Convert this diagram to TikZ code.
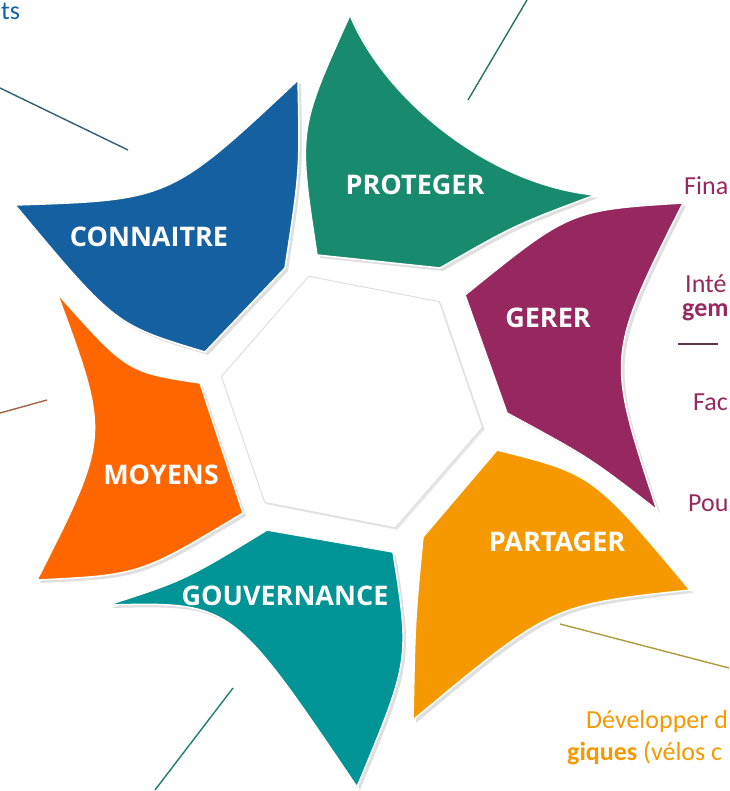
\documentclass[tikz,border=0pt]{standalone}
\usepackage{fontspec}
\setmainfont{Carlito}
\newfontfamily\petalfont{Open Sans}
\usetikzlibrary{shapes.geometric,shadows}

\definecolor{bleu}{RGB}{20,96,160}
\definecolor{vert}{RGB}{24,138,110}
\definecolor{prune}{RGB}{150,40,95}
\definecolor{jaune}{RGB}{246,152,0}
\definecolor{canard}{RGB}{0,148,150}
\definecolor{carotte}{RGB}{255,102,0}

\tikzset{
  petal/.style={draw=white, line width=1.5pt,
    drop shadow={opacity=.25, shadow xshift=3pt, shadow yshift=-3pt}},
  petaltext/.style={text=white, font=\petalfont\fontsize{27}{30}\selectfont\bfseries},
  sidetext/.style={font=\fontsize{26}{30}\selectfont, inner sep=0pt, anchor=base west},
  trait/.style={line width=1.4pt}
}

\begin{document}
\begin{tikzpicture}[x=1pt,y=-1pt]
\useasboundingbox (0,0) rectangle (729,791);

\coordinate (t1a) at (0,88);    \coordinate (t1b) at (128,150);
\coordinate (t2a) at (527,0);   \coordinate (t2b) at (468,100);
\coordinate (t3a) at (0,413);   \coordinate (t3b) at (47,400);
\coordinate (t4a) at (233,688); \coordinate (t4b) at (155,790);
\coordinate (t5a) at (678,344); \coordinate (t5b) at (718,344);
\coordinate (t6a) at (560,624); \coordinate (t6b) at (729,668);
\draw[trait, color={rgb,255:red,50;green,95;blue,115}] (t1a) -- (t1b);
\draw[trait, color={rgb,255:red,40;green,115;blue,95}] (t2a) -- (t2b);
\draw[trait, color={rgb,255:red,160;green,100;blue,70}] (t3a) -- (t3b);
\draw[trait, color={rgb,255:red,30;green,125;blue,115}] (t4a) -- (t4b);
\draw[trait, color={rgb,255:red,95;green,55;blue,75}] (t5a) -- (t5b);
\draw[trait, color={rgb,255:red,175;green,155;blue,60}] (t6a) -- (t6b);

\node[regular polygon, regular polygon sides=6, minimum size=266pt, inner sep=0pt,
  rotate=-11, fill=white, draw=gray!25, line width=1pt,
  drop shadow={opacity=.2, shadow xshift=2pt, shadow yshift=-2pt}] (hub) at (352,402) {};

\path[petal, fill=bleu] (205,352) .. controls (115,325) .. (15,205)
  .. controls (170,200) .. (298,80) .. controls (300,170) .. (285,268) -- cycle;
\path[petal, fill=vert] (317,255) .. controls (298,130) .. (350,15)
  .. controls (385,100) and (490,185) .. (595,195) .. controls (515,225) .. (440,268) -- cycle;
\path[petal, fill=prune] (465,295) .. controls (570,210) .. (683,203)
  .. controls (606,356) .. (657,510) .. controls (590,458) .. (507,413) -- cycle;
\path[petal, fill=jaune] (497,450) .. controls (593,474) .. (690,590)
  .. controls (551,605) .. (413,720) .. controls (415,620) .. (423,537) -- cycle;
\path[petal, fill=canard] (393,552) .. controls (410,660) .. (357,787)
  .. controls (232,602) .. (108,605) .. controls (185,580) .. (267,530) -- cycle;
\path[petal, fill=carotte] (243,513) .. controls (140,575) .. (37,580)
  .. controls (110,436) .. (57,293) .. controls (127,372) .. (200,383) -- cycle;

\node[petaltext] (connaitre) at (149,237) {CONNAITRE};
\node[petaltext] (proteger) at (415,185) {PROTEGER};
\node[petaltext] (gerer) at (548,318) {GERER};
\node[petaltext] (partager) at (557,542) {PARTAGER};
\node[petaltext] (gouvernance) at (285,596) {GOUVERNANCE};
\node[petaltext] (moyens) at (161,475) {MOYENS};

\node[sidetext, text=bleu] (ts) at (1,20) {ts};
\node[sidetext, text=prune] (fina) at (684,195) {Fina};
\node[sidetext, text=prune] (inte) at (685,292) {Inté};
\node[sidetext, text=prune] (gem) at (682,316) {\bfseries gem};
\node[sidetext, text=prune] (fac) at (693,410) {Fac};
\node[sidetext, text=prune] (pou) at (688,511) {Pou};
\node[sidetext, text=jaune] (dev) at (586,728) {Développer d};
\node[sidetext, text=jaune] (giq) at (567,760) {\bfseries giques\mdseries{} (vélos c};
\end{tikzpicture}
\end{document}
